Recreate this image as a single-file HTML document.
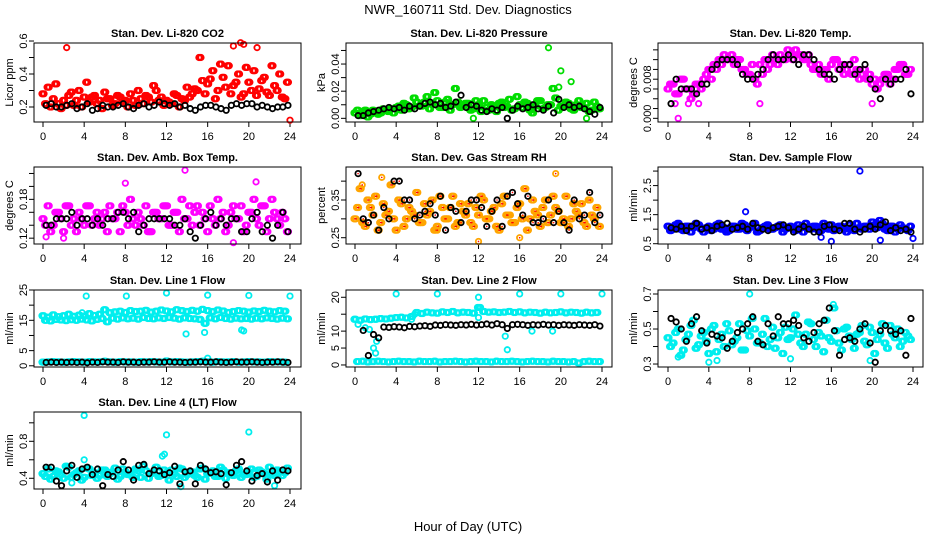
<!DOCTYPE html>
<html><head><meta charset="utf-8"><style>
html,body{margin:0;padding:0;background:#fff;}
svg{display:block;font-family:"Liberation Sans",sans-serif;}
</style></head><body>
<svg id="chart" width="936" height="540" viewBox="0 0 936 540">
<text x="468" y="14" text-anchor="middle" font-size="13">NWR_160711  Std. Dev. Diagnostics</text>
<text x="468" y="531" text-anchor="middle" font-size="13">Hour of Day (UTC)</text>
</svg>
<script>
// ---- data ----
const hours = [0,4,8,12,16,20,24];

const co2A=[0.28,0.32,0.25,0.22,0.24,0.27,0.21,0.30,0.26,0.23,0.27,0.24,0.29,0.25,0.22,0.26,0.24,0.28,0.21,0.25,0.27,0.23,0.30,0.26,0.24,0.22,0.27,0.25,0.32,0.28,0.30,0.36,0.34,0.42,0.30,0.38,0.45,0.33,0.40,0.28,0.35,0.42,0.31,0.38,0.27,0.33,0.40,0.25];
const co2B=[0.22,0.20,0.34,0.19,0.21,0.29,0.24,0.20,0.35,0.26,0.22,0.19,0.25,0.21,0.27,0.23,0.20,0.24,0.30,0.22,0.26,0.33,0.24,0.21,0.23,0.28,0.20,0.24,0.26,0.31,0.50,0.28,0.37,0.25,0.46,0.32,0.28,0.35,0.26,0.44,0.30,0.27,0.36,0.29,0.45,0.30,0.26,0.35];
const co2ExtraX=[2.3,18.5,19.5,20.8,19.2,24];
const co2ExtraY=[0.56,0.57,0.58,0.56,0.59,0.12];
const co2Black=[0.21,0.22,0.20,0.20,0.21,0.22,0.19,0.20,0.22,0.18,0.19,0.21,0.20,0.20,0.21,0.22,0.20,0.19,0.21,0.22,0.20,0.21,0.23,0.22,0.21,0.22,0.20,0.21,0.19,0.18,0.20,0.21,0.21,0.20,0.19,0.18,0.21,0.22,0.21,0.22,0.22,0.20,0.21,0.20,0.19,0.20,0.20,0.21];

const presA=[0.004,0.002,0.006,0.003,0.005,0.004,0.006,0.007,0.008,0.006,0.010,0.008,0.012,0.009,0.016,0.011,0.013,0.008,0.014,0.010,0.012,0.009,0.011,0.007,0.010,0.013,0.006,0.009,0.011,0.008,0.014,0.007,0.010,0.012,0.006,0.009,0.013,0.008,0.010,0.015,0.009,0.012,0.007,0.010,0.008,0.011,0.006,0.009];
const presB=[0.006,0.005,0.001,0.006,0.003,0.007,0.005,0.004,0.009,0.011,0.007,0.015,0.009,0.012,0.007,0.019,0.008,0.012,0.006,0.022,0.008,0.011,0.006,0.013,0.005,0.008,0.010,0.005,0.012,0.009,0.006,0.016,0.008,0.011,0.004,0.013,0.007,0.010,0.022,0.006,0.009,0.011,0.006,0.013,0.008,0.005,0.012,0.007];
const presExtraX=[18.8,20,21,19.8,22.5,11.5];
const presExtraY=[0.052,0.035,0.027,0.023,0.000,0.000];
const presBlack=[0.002,0.002,0.004,0.005,0.006,0.007,0.008,0.007,0.008,0.006,0.009,0.007,0.009,0.011,0.012,0.010,0.011,0.008,0.009,0.012,0.017,0.008,0.010,0.009,0.006,0.005,0.007,0.006,0.008,0.000,0.006,0.009,0.007,0.008,0.010,0.007,0.006,0.009,0.004,0.014,0.008,0.010,0.008,0.009,0.007,0.005,0.003,0.008];

const tempA=[0.006,0.007,0.005,0.008,0.006,0.005,0.007,0.008,0.010,0.011,0.012,0.013,0.012,0.011,0.012,0.010,0.009,0.008,0.011,0.012,0.011,0.012,0.013,0.012,0.013,0.014,0.013,0.012,0.011,0.010,0.009,0.010,0.011,0.012,0.011,0.010,0.009,0.010,0.009,0.008,0.007,0.006,0.008,0.009,0.008,0.010,0.011,0.009];
const tempB=[0.007,0.005,0.008,0.006,0.004,0.007,0.006,0.009,0.008,0.010,0.011,0.012,0.013,0.012,0.010,0.009,0.011,0.007,0.009,0.010,0.013,0.011,0.012,0.014,0.012,0.013,0.012,0.013,0.010,0.011,0.010,0.008,0.012,0.010,0.009,0.011,0.012,0.008,0.010,0.009,0.008,0.007,0.009,0.007,0.010,0.011,0.009,0.010];
const tempExtraX=[1,0.7,2,9,20,3];
const tempExtraY=[0.000,0.003,0.003,0.003,0.003,0.003];
const tempBlack=[0.003,0.008,0.006,0.006,0.006,0.005,0.007,0.007,0.010,0.011,0.012,0.012,0.012,0.011,0.009,0.008,0.008,0.009,0.010,0.012,0.013,0.012,0.012,0.013,0.012,0.011,0.013,0.013,0.012,0.010,0.009,0.009,0.008,0.010,0.011,0.011,0.009,0.010,0.011,0.008,0.006,0.004,0.008,0.007,0.008,0.008,0.010,0.005];

const boxA=[0.15,0.17,0.14,0.16,0.13,0.17,0.15,0.16,0.14,0.17,0.15,0.14,0.16,0.17,0.15,0.13,0.16,0.18,0.14,0.15,0.17,0.13,0.16,0.15,0.17,0.14,0.16,0.18,0.15,0.14,0.17,0.16,0.13,0.15,0.18,0.16,0.14,0.17,0.15,0.13,0.16,0.18,0.14,0.17,0.15,0.16,0.14,0.15];
const boxB=[0.14,0.13,0.16,0.15,0.17,0.14,0.13,0.15,0.17,0.14,0.16,0.15,0.13,0.15,0.16,0.17,0.14,0.15,0.16,0.14,0.13,0.16,0.15,0.17,0.14,0.16,0.13,0.15,0.17,0.16,0.14,0.15,0.17,0.14,0.15,0.13,0.16,0.15,0.17,0.14,0.16,0.15,0.17,0.13,0.18,0.15,0.16,0.13];
const boxExtraX=[13.8,8,20.7,0.3,2,18.5];
const boxExtraY=[0.225,0.205,0.207,0.122,0.120,0.113];
const boxBlack=[0.14,0.14,0.15,0.15,0.15,0.16,0.14,0.15,0.15,0.14,0.15,0.14,0.15,0.15,0.16,0.16,0.15,0.16,0.13,0.14,0.15,0.15,0.15,0.15,0.15,0.14,0.14,0.15,0.13,0.12,0.14,0.15,0.16,0.14,0.15,0.14,0.15,0.15,0.13,0.13,0.15,0.16,0.13,0.14,0.12,0.14,0.16,0.13];

const rhA=[0.30,0.38,0.28,0.33,0.36,0.29,0.31,0.39,0.27,0.34,0.30,0.32,0.37,0.29,0.31,0.35,0.28,0.33,0.30,0.36,0.29,0.32,0.34,0.28,0.31,0.35,0.30,0.33,0.27,0.36,0.31,0.29,0.34,0.38,0.30,0.32,0.28,0.35,0.31,0.33,0.29,0.36,0.30,0.32,0.34,0.28,0.31,0.33];
const rhB=[0.33,0.29,0.35,0.31,0.27,0.34,0.32,0.30,0.35,0.28,0.33,0.31,0.29,0.34,0.32,0.27,0.36,0.30,0.33,0.28,0.34,0.31,0.29,0.33,0.36,0.30,0.32,0.28,0.34,0.31,0.29,0.33,0.30,0.27,0.35,0.31,0.33,0.29,0.36,0.32,0.30,0.28,0.34,0.31,0.29,0.35,0.30,0.28];
const rhExtraX=[19.5,2.6,12,16,0.7,8];
const rhExtraY=[0.42,0.41,0.24,0.25,0.39,0.27];
const rhBlack=[0.42,0.30,0.29,0.31,0.27,0.33,0.30,0.40,0.40,0.35,0.35,0.30,0.31,0.32,0.34,0.31,0.36,0.27,0.33,0.32,0.29,0.32,0.35,0.35,0.33,0.28,0.32,0.35,0.28,0.36,0.37,0.34,0.31,0.36,0.29,0.29,0.30,0.35,0.29,0.32,0.29,0.27,0.35,0.30,0.31,0.37,0.29,0.31];

const flowA=[1.1,1.0,1.2,0.95,1.1,1.05,1.15,0.9,1.1,1.0,1.2,1.05,0.95,1.1,1.0,1.15,1.05,1.2,0.95,1.1,1.0,1.05,1.15,1.0,1.1,0.95,1.05,1.2,1.0,1.1,0.95,1.05,1.15,1.0,1.1,0.9,1.05,1.2,1.0,1.1,1.25,1.05,1.2,0.95,1.1,1.0,1.05,0.95];
const flowB=[0.95,1.15,1.0,1.1,0.9,1.2,1.0,1.05,0.95,1.15,1.0,0.9,1.1,1.0,1.2,0.95,1.1,0.9,1.05,1.15,1.0,1.1,0.9,1.05,1.0,1.15,0.9,1.05,1.1,0.95,1.2,1.0,0.95,1.1,1.0,1.15,0.95,1.05,1.1,1.0,1.15,1.3,1.0,1.1,0.9,1.15,1.0,1.1];
const flowExtraX=[18.8,7.6,16,20.8,24,15];
const flowExtraY=[3.0,1.6,0.58,0.62,0.68,0.72];
const flowBlack=[1.05,1.0,1.1,0.95,1.1,1.2,1.0,1.05,0.95,1.1,1.15,1.2,1.0,1.05,1.1,1.0,1.2,1.05,1.0,0.95,1.05,1.1,1.15,1.05,0.9,1.0,1.1,1.0,0.9,0.9,1.1,1.15,1.0,0.95,1.2,1.2,1.0,0.9,1.0,1.1,1.0,1.15,1.25,0.95,1.05,0.95,1.0,0.9];

const l1A=[16.5,16,16.8,16.2,16.5,17,16.3,16.7,16.4,17.2,16.6,17,18.5,17.5,17.8,18,17.6,18.2,17.9,18,18.3,17.7,18,18.4,18.1,17.8,18.5,18.2,17.9,18.3,18,18.6,18.2,17.9,18.4,18.1,17.6,17.9,18.2,18,17.7,18.1,17.9,18.3,18,17.8,18.2,18];
const l1B=[15,14.8,15.3,15.1,14.9,15.2,15,15.4,15.1,14.8,15.3,15.6,14.5,15.7,15.4,15.8,15.5,15.7,15.4,15.9,15.6,15.5,15.8,15.6,15.9,15.7,15.4,15.8,15.6,15.5,15.3,14,15.8,15.5,15.9,15.6,15.4,15.7,15.5,15.6,15.4,15.7,15.5,15.8,15.6,15.4,15.7,15.5];
const l1C=[1.2,1.3,1.4,1.3,1.2,1.3,1.4,1.3,1.2,1.4,1.3,1.3,1.5,1.3,1.2,1.4,1.3,1.3,1.2,1.4,1.3,1.4,1.3,1.2,1.6,1.3,1.4,1.3,1.2,1.3,1.4,1.5,1.3,1.2,1.4,1.3,1.3,1.4,1.2,1.3,1.4,1.3,1.3,1.2,1.4,1.3,1.3,1.2];
const l1ExtraX=[4.2,8.1,12,16,20,24,13.9,15.7,19.3,16,19.5,3.8];
const l1ExtraY=[23,23,24,23.3,23.2,23,10.5,11,11.8,2.5,11.5,17.5];
const l1Black=[1.1,1.2,1.1,1.2,1.1,1.2,1.1,1.2,1.0,1.2,1.1,1.3,1.2,1.2,1.1,1.3,1.2,1.2,1.1,1.2,1.2,1.3,1.2,1.2,1.3,1.2,1.2,1.1,1.2,1.2,1.3,1.2,1.2,1.3,1.2,1.1,1.2,1.3,1.2,1.2,1.3,1.2,1.1,1.2,1.2,1.3,1.2,1.1];

const l2A=[13.5,13.2,13.6,13.4,13.5,13.7,13.6,13.8,14,14.1,13.9,14.3,15.5,15.2,15.6,15.4,15.3,15.7,15.5,15.8,15.4,15.6,15.5,15.3,17,15.8,15.6,15.7,15.5,15.6,15.8,15.5,15.7,15.4,15.6,15.5,15.3,15.6,15.4,15.5,15.7,15.4,15.6,15.5,15.3,15.6,15.4,15.5];
const l2B=[1.0,1.1,0.9,1.0,1.1,1.0,0.9,1.0,1.1,1.0,1.0,0.9,1.1,1.0,1.0,1.1,0.9,1.0,1.0,1.1,1.0,0.9,1.0,1.1,1.0,1.0,0.9,1.1,1.0,1.0,1.1,1.0,0.9,1.0,1.1,1.0,1.0,0.9,1.1,1.0,1.0,0.9,1.0,0.6,1.0,1.1,1.0,1.0];
const l2ExtraX=[0.3,1,1.8,2,2.1,4,8,12,16,20,24,14.6,14.8,17.2,19.2,5.5,5.8,1.4,12,12.2];
const l2ExtraY=[12,11,5,3.5,7,21,21,20,21,21,21,8.5,4.5,10,10,13.5,15,10.5,14,17];
const l2Black=[null,10.2,2.8,9,8,11.2,11.1,11.3,11.2,11.0,11.4,11.3,11.5,11.6,11.4,11.8,11.7,11.9,11.8,11.7,11.9,11.8,12.0,11.8,11.9,12.1,11.8,12.2,11.9,10.8,11.9,12.0,11.9,11.7,11.9,11.8,12.0,11.8,11.9,11.7,11.9,11.8,11.7,11.9,11.8,11.7,11.9,11.5];

const l3A=[0.45,0.42,0.50,0.38,0.47,0.55,0.41,0.48,0.36,0.52,0.44,0.40,0.49,0.43,0.53,0.38,0.46,0.50,0.42,0.56,0.44,0.39,0.48,0.51,0.45,0.58,0.42,0.47,0.53,0.40,0.46,0.55,0.43,0.49,0.38,0.51,0.44,0.47,0.52,0.41,0.48,0.44,0.53,0.39,0.47,0.50,0.43,0.46];
const l3B=[0.40,0.48,0.35,0.44,0.52,0.39,0.46,0.43,0.50,0.37,0.47,0.53,0.41,0.45,0.38,0.49,0.56,0.42,0.47,0.40,0.51,0.45,0.36,0.44,0.50,0.47,0.40,0.54,0.44,0.48,0.37,0.45,0.62,0.42,0.50,0.46,0.39,0.48,0.43,0.51,0.36,0.47,0.42,0.52,0.45,0.40,0.48,0.44];
const l3ExtraX=[8,4,4.8,12,16.2,19.8,1];
const l3ExtraY=[0.70,0.31,0.32,0.33,0.64,0.32,0.34];
const l3Black=[0.56,0.54,0.50,0.43,0.53,0.57,0.49,0.42,0.47,0.46,0.45,0.39,0.43,0.48,0.50,0.53,0.57,0.43,0.41,0.53,0.46,0.57,0.53,0.53,0.55,0.52,0.45,0.43,0.48,0.53,0.55,0.62,0.49,0.35,0.44,0.45,0.43,0.50,0.53,0.42,0.31,0.49,0.52,0.49,0.47,0.49,0.35,0.56];

const l4A=[0.45,0.50,0.42,0.47,0.40,0.52,0.44,0.48,0.41,0.50,0.46,0.43,0.49,0.45,0.51,0.42,0.47,0.44,0.50,0.41,0.48,0.45,0.52,0.43,0.46,0.49,0.42,0.50,0.44,0.47,0.41,0.51,0.45,0.48,0.42,0.49,0.46,0.43,0.50,0.44,0.47,0.41,0.49,0.45,0.52,0.43,0.48,0.46];
const l4B=[0.42,0.39,0.48,0.44,0.53,0.41,0.46,0.38,0.51,0.43,0.40,0.49,0.42,0.47,0.39,0.50,0.44,0.41,0.48,0.53,0.40,0.46,0.42,0.49,0.38,0.45,0.51,0.41,0.47,0.43,0.50,0.39,0.46,0.42,0.52,0.40,0.45,0.48,0.41,0.44,0.50,0.42,0.47,0.39,0.45,0.49,0.43,0.51];
const l4ExtraX=[4,12,20,11.6,11.8,4,2.8,13.4,22.5];
const l4ExtraY=[1.08,0.87,0.90,0.64,0.66,0.60,0.35,0.31,0.32];
const l4Black=[0.52,0.52,0.37,0.32,0.48,0.54,0.41,0.50,0.52,0.44,0.50,0.32,0.44,0.42,0.49,0.58,0.49,0.38,0.54,0.55,0.45,0.49,0.48,0.44,0.46,0.53,0.34,0.47,0.48,0.34,0.54,0.50,0.46,0.47,0.45,0.33,0.46,0.54,0.58,0.48,0.37,0.43,0.45,0.36,0.48,0.38,0.49,0.48];

// ---- layout ----
const NS="http://www.w3.org/2000/svg";
const svg=document.getElementById('chart');
const cols=[{l:34,r:301,x0:43,x24:290},{l:346,r:612,x0:355,x24:602},{l:658,r:923,x0:668,x24:913}];
const rows=[{t:43,b:122},{t:167,b:244},{t:290,b:367},{t:412,b:489}];
function mk(tag,attrs,parent){const e=document.createElementNS(NS,tag);for(const k in attrs)e.setAttribute(k,attrs[k]);(parent||svg).appendChild(e);return e;}

const panels=[
 {name:'co2',title:'Stan. Dev. Li-820 CO2',ylab:'Licor ppm',c:0,r:0,ymin:0.109,ymax:0.588,ticks:[0.2,0.3,0.4,0.5,0.6],labels:[0.2,0.4,0.6],fmt:1,color:'#ff0000',series:[co2A,co2B],ex:[co2ExtraX,co2ExtraY],black:co2Black},
 {name:'pressure',title:'Stan. Dev. Li-820 Pressure',ylab:'kPa',c:1,r:0,ymin:-0.0027,ymax:0.0555,ticks:[0,0.01,0.02,0.03,0.04,0.05],labels:[0,0.02,0.04],fmt:2,color:'#00dd00',series:[presA,presB],ex:[presExtraX,presExtraY],black:presBlack},
 {name:'li820-temp',title:'Stan. Dev. Li-820 Temp.',ylab:'degrees C',c:2,r:0,ymin:-0.00075,ymax:0.0154,ticks:[0,0.002,0.004,0.006,0.008,0.010,0.012,0.014],labels:[0,0.008],fmt:3,color:'#ff00ff',series:[tempA,tempB],ex:[tempExtraX,tempExtraY],black:tempBlack},
 {name:'amb-box-temp',title:'Stan. Dev. Amb. Box Temp.',ylab:'degrees C',c:0,r:1,ymin:0.111,ymax:0.230,ticks:[0.12,0.14,0.16,0.18,0.20,0.22],labels:[0.12,0.18],fmt:2,color:'#ff00ff',series:[boxA,boxB],ex:[boxExtraX,boxExtraY],black:boxBlack},
 {name:'gas-rh',title:'Stan. Dev. Gas Stream RH',ylab:'percent',c:1,r:1,ymin:0.2333,ymax:0.4375,ticks:[0.25,0.30,0.35,0.40],labels:[0.25,0.35],fmt:2,color:'#ffa500',dot:'#ff0000',series:[rhA,rhB],ex:[rhExtraX,rhExtraY],black:rhBlack},
 {name:'sample-flow',title:'Stan. Dev. Sample Flow',ylab:'ml/min',c:2,r:1,ymin:0.49,ymax:3.14,ticks:[0.5,1,1.5,2,2.5,3],labels:[0.5,1.5,2.5],fmt:1,color:'#0000ff',series:[flowA,flowB],ex:[flowExtraX,flowExtraY],black:flowBlack},
 {name:'line1-flow',title:'Stan. Dev. Line 1 Flow',ylab:'ml/min',c:0,r:2,ymin:-0.4,ymax:25,ticks:[0,5,10,15,20,25],labels:[0,5,15,25],fmt:0,color:'#00eeee',series:[l1A,l1B,l1C],ex:[l1ExtraX,l1ExtraY],black:l1Black},
 {name:'line2-flow',title:'Stan. Dev. Line 2 Flow',ylab:'ml/min',c:1,r:2,ymin:-0.6,ymax:22.15,ticks:[0,5,10,15,20],labels:[0,5,10,20],fmt:0,color:'#00eeee',series:[l2A,l2B],ex:[l2ExtraX,l2ExtraY],black:l2Black},
 {name:'line3-flow',title:'Stan. Dev. Line 3 Flow',ylab:'ml/min',c:2,r:2,ymin:0.283,ymax:0.7229,ticks:[0.3,0.4,0.5,0.6,0.7],labels:[0.3,0.5,0.7],fmt:1,color:'#00eeee',series:[l3A,l3B],ex:[l3ExtraX,l3ExtraY],black:l3Black},
 {name:'line4-flow',title:'Stan. Dev. Line 4 (LT) Flow',ylab:'ml/min',c:0,r:3,ymin:0.284,ymax:1.117,ticks:[0.4,0.6,0.8,1.0],labels:[0.4,0.8],fmt:1,color:'#00eeee',series:[l4A,l4B],ex:[l4ExtraX,l4ExtraY],black:l4Black}
];

// sub-sample offsets (hours) at which each half-hourly value is marked
const subOffsets=[-0.1,0,0.1];

panels.forEach(p=>{
  const C=cols[p.c],R=rows[p.r];
  const g=mk('g',{});
  
  
  const X=h=>C.x0+(C.x24-C.x0)*h/24;
  const Y=v=>R.b-(v-p.ymin)/(p.ymax-p.ymin)*(R.b-R.t);
  const t=mk('text',{x:(C.l+C.r)/2,y:R.t-6,'text-anchor':'middle','font-size':'11','font-weight':'bold'},g);
  t.textContent=p.title;
  
  
  const yl=mk('text',{transform:`translate(${C.l-21},${(R.t+R.b)/2}) rotate(-90)`,'text-anchor':'middle','font-size':'11'},g);
  yl.textContent=p.ylab;
  
  
  hours.forEach(h=>{
    mk('line',{x1:X(h),x2:X(h),y1:R.b,y2:R.b+5,stroke:'#000'},g);
    const tl=mk('text',{x:X(h),y:R.b+18,'text-anchor':'middle','font-size':'11'},g);
    tl.textContent=h;
    
    
  });
  p.ticks.forEach(v=>{mk('line',{x1:C.l-5,x2:C.l,y1:Y(v),y2:Y(v),stroke:'#000'},g);});
  p.labels.forEach(v=>{
    const tl=mk('text',{transform:`translate(${C.l-7},${Y(v)}) rotate(-90)`,'text-anchor':'middle','font-size':'11'},g);
    tl.textContent=v.toFixed(p.fmt);
    
    
  });
  const pts=mk('g',{fill:'none','stroke-width':'1.8'},g);
  
  
  const dot=(x,y,col)=>{
    if(y===null)return;
    const c=mk('circle',{cx:X(x),cy:Y(y),r:2.7,stroke:col},pts);
    
    
    if(p.dot){mk('circle',{cx:X(x),cy:Y(y),r:0.8,fill:p.dot,stroke:'none'},pts);}
  };
  p.series.forEach((s,si)=>s.forEach((v,i)=>subOffsets.forEach(o=>dot(i*0.5+(si%2?0.25:0)+o,v,p.color))));
  p.ex[0].forEach((x,i)=>dot(x,p.ex[1][i],p.color));
  p.black.forEach((v,i)=>dot(i*0.5+0.3,v,'#000'));
  const box=mk('rect',{x:C.l,y:R.t,width:C.r-C.l,height:R.b-R.t,fill:'none',stroke:'#000'},g);
  
  
});
</script>
</body></html>
